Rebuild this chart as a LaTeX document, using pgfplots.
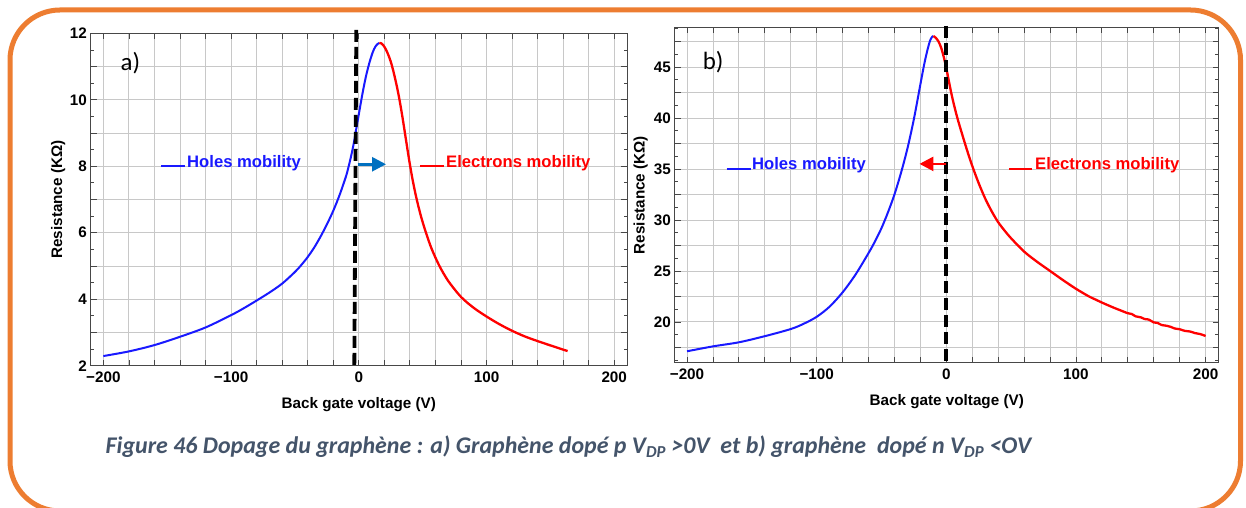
\documentclass[border=0pt]{standalone}
\usepackage{pgfplots}
\pgfplotsset{compat=1.18}
\usepackage{fontspec}
\setmainfont{Liberation Sans}
\newfontfamily\calfont{Carlito}
\usetikzlibrary{arrows.meta}
\definecolor{frameorange}{HTML}{ED7D31}
\definecolor{captxt}{HTML}{44546A}
\definecolor{arrowblue}{RGB}{0,112,192}
\definecolor{gridgray}{RGB}{200,200,200}
\definecolor{cblue}{RGB}{25,25,255}
\definecolor{cred}{RGB}{255,0,0}

\pgfplotstableread{
x y
-200 2.29
-180 2.43
-160 2.62
-140 2.87
-120 3.15
-100 3.52
-90 3.73
-80 3.96
-70 4.20
-60 4.47
-50 4.82
-45 5.03
-40 5.27
-35 5.55
-30 5.88
-25 6.25
-20 6.66
-15 7.14
-10 7.70
-8 7.99
-6 8.31
-4 8.68
-2.2 9.08
0 9.56
2 10.00
4 10.41
6 10.77
8.5 11.14
11 11.44
13 11.60
14.8 11.68
16.1 11.71
}\holesA

\pgfplotstableread{
x y
16.1 11.71
17.5 11.70
19 11.65
21 11.53
23 11.36
25 11.15
27 10.87
29.7 10.42
32 9.97
34.5 9.40
37 8.78
39.5 8.17
42 7.62
45 7.06
48.5 6.52
52.5 6.01
57 5.52
63 5.01
70 4.55
80 4.07
90 3.74
100 3.48
110 3.25
120 3.05
130 2.88
140 2.74
150 2.61
163.5 2.44
}\elecA

\pgfplotstableread{
x y
-200 17.12
-180 17.60
-160 18.00
-140 18.60
-120 19.30
-110 19.82
-100 20.50
-90 21.50
-80 22.90
-70 24.65
-60 26.75
-55 27.90
-50 29.20
-45 30.75
-40 32.50
-35 34.60
-30 37.00
-25 39.90
-20 43.30
-17 45.30
-14.5 46.70
-12.5 47.60
-11 47.95
-10 48.05
}\holesB

\pgfplotstableread{
x y
-10 48.05
-8 47.85
-6 47.50
-4 46.90
-2 46.00
0 44.90
2 43.60
4 42.35
6 41.25
8 40.25
10 39.35
12 38.50
15 37.25
18 36.05
21 34.95
25 33.60
30 32.10
35 30.85
40 29.78
45 28.95
50 28.20
60 26.90
70 25.90
80 25.00
90 24.10
100 23.25
110 22.50
115 22.20
120 21.90
125 21.62
130 21.35
135 21.10
140 20.85
143 20.78
146 20.55
150 20.45
153 20.28
156 20.24
160 19.95
163 19.90
166 19.70
170 19.62
173 19.52
176 19.36
180 19.28
184 19.12
188 19.06
192 18.90
196 18.80
200 18.62
}\elecB

\tikzset{leg/.style={font=\fontsize{16.7}{18}\selectfont\bfseries, inner sep=0pt, anchor=base west}}

\pgfplotsset{
  mystyle/.style={
    scale only axis,
    clip=false,
    axis line style={draw=black!72, line width=0.9pt},
    grid=major,
    major grid style={draw=gridgray, line width=0.85pt},
    tick style={draw=black!72, line width=0.8pt},
    major tick length=6bp,
    minor tick length=3.5bp,
    tick align=inside,
    xtick pos=both, ytick pos=both,
    ticklabel style={font=\fontsize{15.3}{16}\selectfont\bfseries, inner sep=0pt},
    xticklabel style={anchor=north, yshift=-5.5bp},
    yticklabel style={anchor=east, xshift=-3.6bp},
    label style={font=\fontsize{15.3}{16}\selectfont\bfseries},
    xlabel={Back gate voltage (V)},
    ylabel={Resistance (KΩ)},
    xlabel style={at={(axis description cs:0.5,0)}, anchor=base, yshift=-42.5bp, inner sep=0pt},
    xmin=-210, xmax=210,
    xtick={-200,-180,...,200},
    xticklabels={−200,,,,,−100,,,,,0,,,,,100,,,,,200},
  },
}

\begin{document}
\begin{tikzpicture}[x=1bp,y=1bp]
\useasboundingbox (0,0) rectangle (1246,508);
\fill[white] (0,0) rectangle (1246,508);
\begin{scope}
\clip (0,0) rectangle (1246,508);
\draw[frameorange, line width=5bp, rounded corners=50bp] (10,-3) rectangle (1240.5,498);
\end{scope}

% ---------- panel a ----------
\begin{axis}[mystyle,
  at={(90.6bp,142.3bp)}, anchor=south west,
  width=536.4bp, height=332.4bp,
  ymin=2, ymax=12,
  ytick={2,3,...,12},
  yticklabels={2,,4,,6,,8,,10,,12},
  minor ytick={2.5,3.5,...,11.5},
  ylabel style={at={(axis description cs:0,0.5)}, anchor=base, yshift=28.6bp, inner sep=0pt},
]
\addplot[cblue, line width=2bp, smooth] table[x=x,y=y]{\holesA};
\addplot[cred, line width=2.3bp, smooth] table[x=x,y=y]{\elecA};
\addplot[black, line width=3.8bp, dash pattern=on 12bp off 5bp] coordinates {(-1.96,12.1) (-3.5,2)};
\draw[arrowblue, line width=2.7bp, -{Triangle[length=14bp,width=14bp]}] (axis cs:-1,8.06) -- (axis cs:21.3,8.06);
\draw[cblue, line width=2bp] (axis cs:-154.8,8.02) -- (axis cs:-136,8.02);
\node[leg, text=cblue] at (axis cs:-134.5,7.97) {Holes mobility};
\draw[cred, line width=2bp] (axis cs:48.2,8.02) -- (axis cs:66.7,8.02);
\node[leg, text=cred] at (axis cs:68.3,7.97) {Electrons mobility};
\node[font=\calfont\fontsize{25}{26}\selectfont, inner sep=0pt, anchor=base west] at (axis cs:-186.6,10.875) {a)};
\end{axis}

% ---------- panel b ----------
\begin{axis}[mystyle,
  at={(674.7bp,145.3bp)}, anchor=south west,
  width=544.1bp, height=335.4bp,
  xmin=-209.5, xmax=210.2,
  ymin=16, ymax=48.9,
  ytick={17.5,20,...,47.5},
  yticklabels={,20,,25,,30,,35,,40,,45,},
  minor ytick={16.25,18.75,...,48.75},
  ylabel style={at={(axis description cs:0,0.5)}, anchor=base, yshift=30bp, inner sep=0pt},
]
\addplot[cblue, line width=2bp, smooth] table[x=x,y=y]{\holesB};
\addplot[cred, line width=2.3bp, smooth] table[x=x,y=y]{\elecB};
\addplot[black, line width=3.8bp, dash pattern=on 12bp off 5bp] coordinates {(0,49.05) (0,16)};
\draw[cred, line width=2.7bp, -{Triangle[length=14bp,width=14bp]}] (axis cs:0,35.5) -- (axis cs:-20.7,35.5);
\draw[cblue, line width=2bp] (axis cs:-169.5,35.03) -- (axis cs:-150.5,35.03);
\node[leg, text=cblue] at (axis cs:-149.9,34.93) {Holes mobility};
\draw[cred, line width=2bp] (axis cs:48.4,35.03) -- (axis cs:66.1,35.03);
\node[leg, text=cred] at (axis cs:68.4,34.93) {Electrons mobility};
\node[font=\calfont\fontsize{25}{26}\selectfont, inner sep=0pt, anchor=base west] at (axis cs:-188,44.74) {b)};
\end{axis}

\node[anchor=base west, inner sep=0pt, text=captxt, font=\calfont\bfseries\itshape\fontsize{24}{26}\selectfont] at (105.5,54.7)
 {Figure 46 Dopage du graphène : a) Graphène dopé p V\textsubscript{DP} >0V \ et b) graphène \ dopé n V\textsubscript{DP} <OV};
\end{tikzpicture}
\end{document}
